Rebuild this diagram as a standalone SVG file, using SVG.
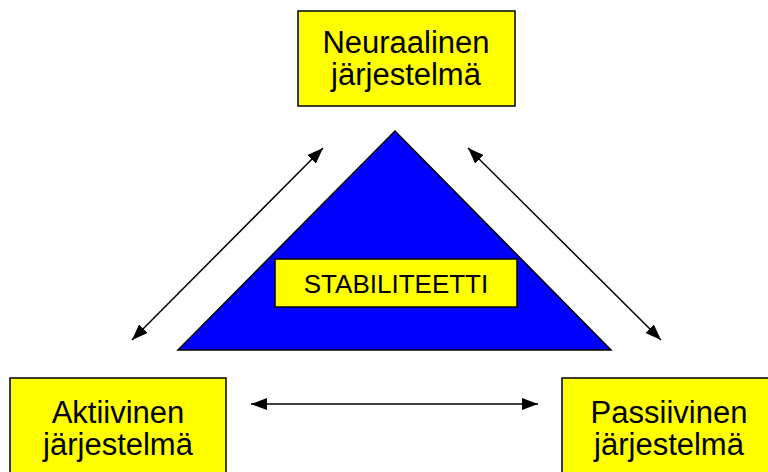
<svg xmlns="http://www.w3.org/2000/svg" width="768" height="472" viewBox="0 0 768 472">
<style>
.box{fill:#ffff00;stroke:#000;stroke-width:1.5}
.lbl{font-family:"Liberation Sans",Arial,sans-serif;font-size:31px;fill:#000;text-anchor:middle}
.conn{stroke:#000;stroke-width:1.5;fill:none;marker-start:url(#ah);marker-end:url(#ah)}
</style>
<defs>
<marker id="ah" viewBox="0 0 10 10" refX="10" refY="5" markerWidth="10" markerHeight="10" markerUnits="userSpaceOnUse" orient="auto-start-reverse">
<path d="M0,0 L10,5 L0,10 Z" fill="#000"/>
</marker>
<marker id="ah2" viewBox="0 0 16 12" refX="16" refY="6" markerWidth="16" markerHeight="12" markerUnits="userSpaceOnUse" orient="auto-start-reverse">
<path d="M0,0 L16,6 L0,12 Z" fill="#000"/>
</marker>
</defs>
<rect width="768" height="472" fill="#fff"/>
<g id="triangle">
<polygon points="395,131 178,350 611,350" fill="#0000ff" stroke="#000" stroke-width="1.5"/>
</g>
<g id="stabiliteetti">
<rect class="box" x="275" y="259" width="242" height="48"/>
<text class="lbl" x="396" y="293" style="font-size:26px">STABILITEETTI</text>
</g>
<g id="neuraalinen">
<rect class="box" x="298" y="11" width="217" height="95"/>
<text class="lbl" x="406" y="53">Neuraalinen</text>
<text class="lbl" x="406" y="85">järjestelmä</text>
</g>
<g id="aktiivinen">
<rect class="box" x="10" y="378" width="216" height="110"/>
<text class="lbl" x="118" y="423">Aktiivinen</text>
<text class="lbl" x="118" y="455">järjestelmä</text>
</g>
<g id="passiivinen">
<rect class="box" x="562" y="378" width="216" height="110"/>
<text class="lbl" x="669" y="423">Passiivinen</text>
<text class="lbl" x="669" y="455">järjestelmä</text>
</g>
<g id="connectors">
<line x1="132" y1="340" x2="323" y2="148" stroke="#000" stroke-width="1.5" marker-start="url(#ah2)" marker-end="url(#ah2)"/>
<line x1="468" y1="148" x2="661" y2="340" stroke="#000" stroke-width="1.5" marker-start="url(#ah2)" marker-end="url(#ah2)"/>
<line x1="251" y1="404" x2="538" y2="404" stroke="#000" stroke-width="1.5" marker-start="url(#ah2)" marker-end="url(#ah2)"/>
</g>
</svg>
